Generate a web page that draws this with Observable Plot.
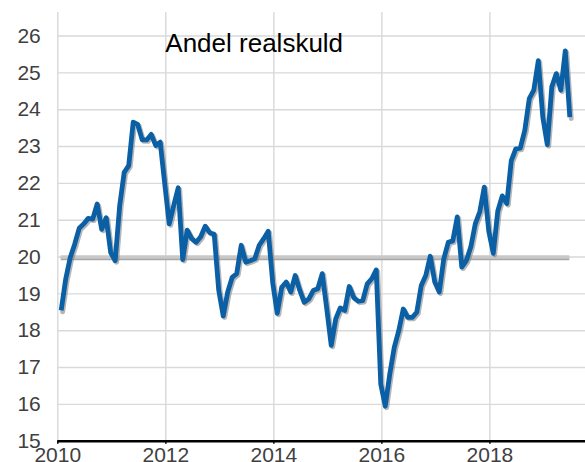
<!DOCTYPE html>
<html>
<head>
<meta charset="utf-8">
<script src="https://cdn.jsdelivr.net/npm/d3@7"></script>
<script src="https://cdn.jsdelivr.net/npm/@observablehq/plot@0.6"></script>
<style>
  html, body { margin: 0; padding: 0; background: #fff; }
  #chart { width: 585px; height: 462px; }
</style>
</head>
<body>
<div id="chart"></div>
<script>
// Monthly share of real-estate debt (Andel realskuld), Jan 2010 – Jun 2019
const startMonth = "2010-01";
const endMonth = "2019-07"; // exclusive
const values = [
  18.55, 19.4, 19.98, 20.35, 20.78, 20.9, 21.05, 21.03, 21.44, 20.75, 21.07, 20.12,
  19.9, 21.4, 22.3, 22.48, 23.66, 23.6, 23.18, 23.18, 23.33, 23.03, 23.12, 22.0,
  20.9, 21.4, 21.88, 19.93, 20.73, 20.5, 20.4, 20.55, 20.84, 20.66, 20.62, 19.1,
  18.4, 19.05, 19.45, 19.55, 20.32, 19.86, 19.9, 19.95, 20.32, 20.5, 20.7, 19.3,
  18.47, 19.18, 19.32, 19.05, 19.5, 19.1, 18.77, 18.86, 19.09, 19.14, 19.55, 18.6,
  17.6, 18.32, 18.62, 18.55, 19.2, 18.9, 18.8, 18.82, 19.27, 19.41, 19.65, 16.55,
  15.95, 16.82, 17.55, 18.0, 18.59, 18.36, 18.36, 18.5, 19.23, 19.5, 20.02, 19.32,
  19.05, 19.95, 20.4, 20.44, 21.09, 19.73, 19.9, 20.27, 20.9, 21.23, 21.9, 20.7,
  20.1, 21.25, 21.66, 21.45, 22.62, 22.94, 22.96, 23.44, 24.3, 24.53, 25.33, 23.8,
  23.05, 24.62, 24.98, 24.53, 25.6, 23.8
];
const referenceLevel = 20;
const yTicks = [15, 16, 17, 18, 19, 20, 21, 22, 23, 24, 25, 26];
const xTicks = [2010, 2012, 2014, 2016, 2018];
const titleText = "Andel realskuld";

const parse = d3.utcParse("%Y-%m");
const months = d3.utcMonth.range(parse(startMonth), parse(endMonth));
const data = months.map((d, i) => ({
  t: d.getUTCFullYear() + (d.getUTCMonth() + 0.75) / 12,
  v: values[i]
}));
const tFirst = data[0].t, tLast = data[data.length - 1].t;

const chart = Plot.plot({
  width: 585,
  height: 462,
  marginLeft: 57.3,
  marginRight: 0,
  marginTop: 12,
  marginBottom: 21.3,
  style: {
    fontFamily: '"Liberation Sans", Arial, Helvetica, sans-serif',
    fontSize: "21px",
    color: "#404040",
    background: "#ffffff",
    overflow: "visible"
  },
  x: { domain: [2010, 2019.77], label: null },
  y: { domain: [15, 26.64], label: null },
  marks: [
    Plot.gridY(yTicks.slice(1), { stroke: "#d9d9d9", strokeOpacity: 1, strokeWidth: 1.4 }),
    Plot.gridX(xTicks, { stroke: "#d9d9d9", strokeOpacity: 1, strokeWidth: 1.4 }),
    Plot.ruleY([15], { stroke: "#000", strokeWidth: 2.5 }),
    Plot.ruleY([referenceLevel], { x1: tFirst, x2: tLast, stroke: "#a8a8a8", strokeWidth: 3.5, dy: 1.5 }),
    Plot.ruleY([referenceLevel], { x1: tFirst, x2: tLast, stroke: "#c8c8c8", strokeWidth: 3.5 }),
    Plot.line(data, { x: "t", y: "v", stroke: "#7a7a7a", strokeOpacity: 0.55, strokeWidth: 4.8, dx: 1.5, dy: 1.5, strokeLinejoin: "round" }),
    Plot.line(data, { x: "t", y: "v", stroke: "#0a5fa5", strokeWidth: 4.8, strokeLinejoin: "round", strokeLinecap: "butt" }),
    Plot.axisY(yTicks, { tickSize: 0, tickPadding: 17, fill: "#404040", fontSize: 21, label: null }),
    Plot.axisX(xTicks, { tickSize: 3, tickPadding: 3, stroke: "#000", strokeWidth: 1.5, fill: "#404040", fontSize: 21, tickFormat: "d", label: null }),
    Plot.text([titleText], { frameAnchor: "top-left", dx: 107.5, dy: 21.2, fontSize: 26, fill: "#000", textAnchor: "start", lineAnchor: "top" })
  ]
});
document.getElementById("chart").appendChild(chart);
</script>
</body>
</html>
